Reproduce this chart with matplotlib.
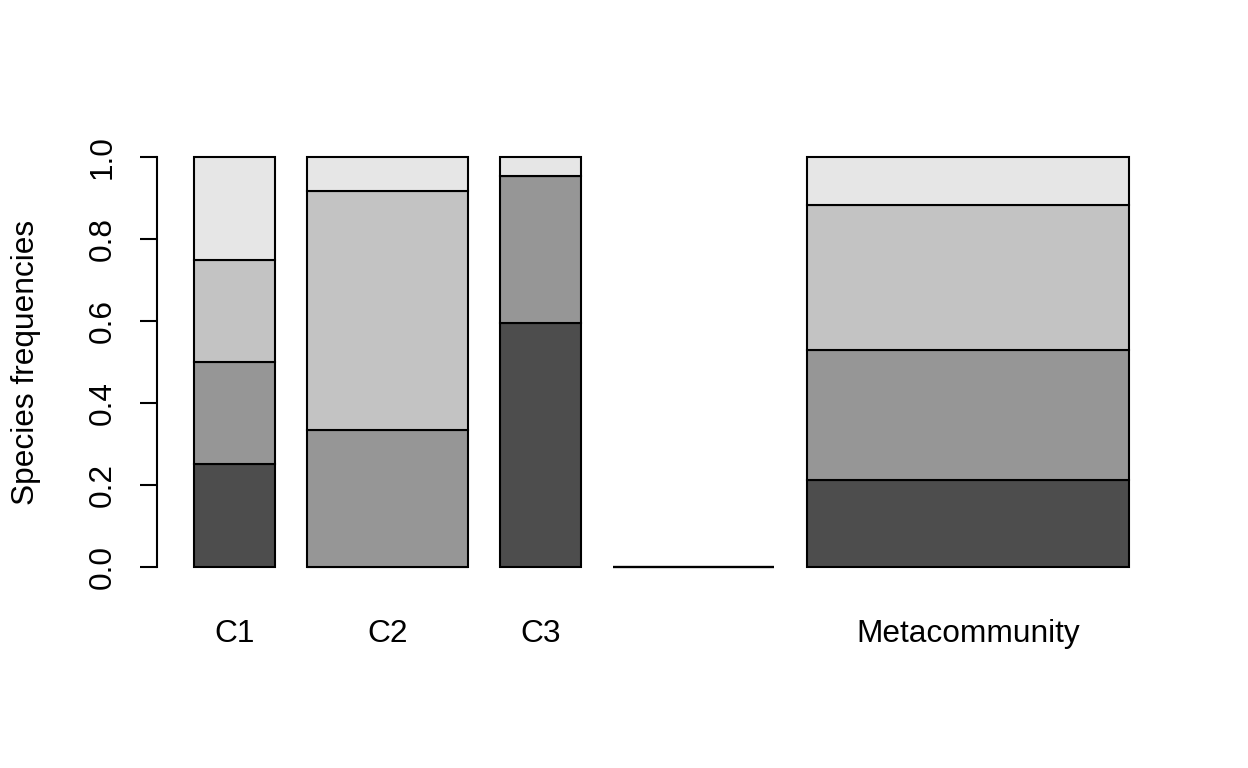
import matplotlib.pyplot as plt
import numpy as np

plt.rcParams["font.family"] = ["Liberation Sans", "DejaVu Sans"]

# Species frequencies per community (bottom to top in each bar)
communities = ["C1", "C2", "C3", "", "Metacommunity"]
bar_widths = [1, 2, 1, 2, 4]
species1 = [0.25, 0.0, 0.596, 0.0, 0.211]
species2 = [0.25, 0.333, 0.358, 0.0, 0.319]
species3 = [0.25, 0.584, 0.0, 0.0, 0.353]
species4 = [0.25, 0.083, 0.046, 0.0, 0.117]
colors = ["#4D4D4D", "#969696", "#C3C3C3", "#E6E6E6"]

# R barplot style spacing: space = 0.2 * mean width
widths = np.array(bar_widths, dtype=float)
space = 0.2 * widths.mean()
lefts = np.cumsum(widths + space) - widths
centers = lefts + widths / 2

fig = plt.figure(figsize=(12.48, 7.68), dpi=100)
ax = fig.add_axes([0.1255, 0.2404, 0.8091, 0.5765])

bottom = np.zeros(len(communities))
for values, col in zip([species1, species2, species3, species4], colors):
    ax.bar(lefts, values, width=widths, bottom=bottom, align="edge",
           color=col, edgecolor="black", linewidth=1.5)
    bottom += np.array(values)

x0, x1 = lefts[0], lefts[-1] + widths[-1]
pad = 0.04 * (x1 - x0)
ax.set_xlim(x0 - pad, x1 + pad)
ax.set_ylim(-0.04, 1.04)

for s in ["top", "right", "bottom"]:
    ax.spines[s].set_visible(False)
ax.spines["left"].set_bounds(0, 1)
ax.spines["left"].set_linewidth(1.5)

yt = np.arange(0, 1.01, 0.2)
ax.set_yticks(yt)
ax.set_yticklabels([f"{v:.1f}" for v in yt], rotation=90, va="center")
ax.tick_params(axis="y", length=12, width=1.5, pad=16, labelsize=22.8)

ax.set_xticks(centers)
ax.set_xticklabels(communities)
ax.tick_params(axis="x", length=0, pad=26, labelsize=22.8)

fig.text(26 / 1248, 0.528, "Species frequencies", rotation=90,
         ha="center", va="center", fontsize=22.8)

fig.savefig("out.png", dpi=100)
